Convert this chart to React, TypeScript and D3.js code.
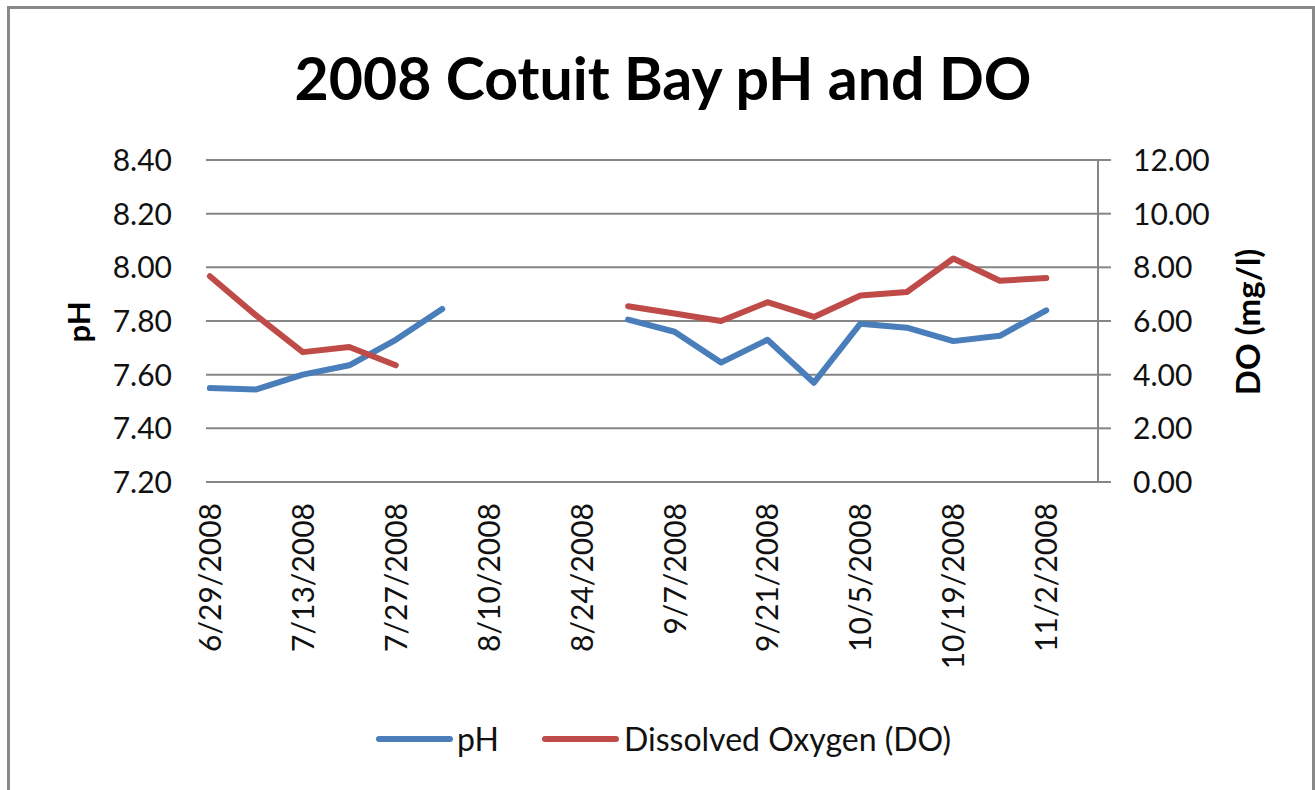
import React from "react";
import * as d3 from "d3";

// ---- data ----
const weekDates: string[] = [
  "2008-06-29", "2008-07-06", "2008-07-13", "2008-07-20", "2008-07-27",
  "2008-08-03", "2008-08-10", "2008-08-17", "2008-08-24", "2008-08-31",
  "2008-09-07", "2008-09-14", "2008-09-21", "2008-09-28", "2008-10-05",
  "2008-10-12", "2008-10-19", "2008-10-26", "2008-11-02",
];
const phValues: (number | null)[] = [
  7.55, 7.545, 7.6, 7.635, 7.73, 7.845, null, null, null, 7.805,
  7.76, 7.645, 7.73, 7.57, 7.79, 7.775, 7.725, 7.745, 7.84,
];
const doValues: (number | null)[] = [
  7.67, 6.2, 4.84, 5.03, 4.35, null, null, null, null, 6.55,
  6.28, 6.0, 6.7, 6.15, 6.95, 7.08, 8.33, 7.5, 7.6,
];
const tickDates: string[] = [
  "2008-06-29", "2008-07-13", "2008-07-27", "2008-08-10", "2008-08-24",
  "2008-09-07", "2008-09-21", "2008-10-05", "2008-10-19", "2008-11-02",
];
const phTicks: number[] = [7.2, 7.4, 7.6, 7.8, 8.0, 8.2, 8.4];
const doTicks: number[] = [0, 2, 4, 6, 8, 10, 12];
const axisStart = "2008-06-29";
const axisEnd = "2008-11-09";

const title = "2008 Cotuit Bay pH and DO";
const seriesNames = ["pH", "Dissolved Oxygen (DO)"];

const BLUE = "#4A7EBB";
const RED = "#BE4B48";
const GRID = "#868686";
const FONT = "Lato, 'Open Sans', sans-serif";

const parse = d3.utcParse("%Y-%m-%d");
const fmt = d3.utcFormat("%-m/%-d/%Y");

export default function App() {
  const left = 206, right = 1098, top = 160, bottom = 482;

  const x = d3
    .scaleUtc()
    .domain([
      d3.utcHour.offset(parse(axisStart)!, -14),
      d3.utcHour.offset(parse(axisEnd)!, 19),
    ])
    .range([left, right]);
  const yPh = d3.scaleLinear().domain([7.2, 8.4]).range([bottom, top]);
  const yDo = d3.scaleLinear().domain([0, 12]).range([bottom, top]);

  const dates = weekDates.map((d) => parse(d)!);

  const phLine = d3
    .line<number>()
    .defined((i) => phValues[i] != null)
    .x((i) => x(dates[i]))
    .y((i) => yPh(phValues[i] as number));
  const doLine = d3
    .line<number>()
    .defined((i) => doValues[i] != null)
    .x((i) => x(dates[i]))
    .y((i) => yDo(doValues[i] as number));
  const idx = d3.range(dates.length);

  return (
    <svg
      width={1315}
      height={790}
      style={{ position: "fixed", left: 0, top: 0, display: "block", background: "#fff" }}
    >
      <rect x={0} y={0} width={1315} height={790} fill="#fff" />
      <rect x={8.5} y={7.5} width={1305} height={800} fill="none" stroke="#898989" strokeWidth={3} />

      <text
        x={663}
        y={100}
        textAnchor="middle"
        fontFamily={FONT}
        fontWeight="bold"
        fontSize={59}
        fill="#000"
      >
        {title}
      </text>

      {/* gridlines */}
      {phTicks.map((t) => (
        <line key={"g" + t} x1={left} x2={right} y1={yPh(t)} y2={yPh(t)} stroke={GRID} strokeWidth={2} />
      ))}

      {/* right axis */}
      <line x1={right} x2={right} y1={top} y2={bottom} stroke={GRID} strokeWidth={2} />
      {doTicks.map((t) => (
        <line key={"rt" + t} x1={right} x2={right + 13} y1={yDo(t)} y2={yDo(t)} stroke={GRID} strokeWidth={2} />
      ))}

      {/* left tick labels */}
      {phTicks.map((t) => (
        <text key={"lt" + t} x={172} y={yPh(t) + 11} textAnchor="end" fontFamily={FONT} fontSize={30} fill="#111">
          {d3.format(".2f")(t)}
        </text>
      ))}
      {/* right tick labels */}
      {doTicks.map((t) => (
        <text key={"rl" + t} x={1133} y={yDo(t) + 11} textAnchor="start" fontFamily={FONT} fontSize={30} fill="#111">
          {d3.format(".2f")(t)}
        </text>
      ))}

      {/* x tick labels */}
      {tickDates.map((d) => {
        const dt = parse(d)!;
        return (
          <text
            key={"x" + d}
            transform={`translate(${x(dt) + 11},503) rotate(-90)`}
            textAnchor="end"
            fontFamily={FONT}
            fontSize={30}
            fill="#111"
          >
            {fmt(dt)}
          </text>
        );
      })}

      {/* axis titles */}
      <text transform="translate(90,322) rotate(-90)" textAnchor="middle" fontFamily={FONT} fontWeight="bold" fontSize={31} fill="#000">
        pH
      </text>
      <text transform="translate(1260,322) rotate(-90)" textAnchor="middle" fontFamily={FONT} fontWeight="bold" fontSize={33} fill="#000">
        DO (mg/l)
      </text>

      {/* series */}
      <path d={phLine(idx) || ""} fill="none" stroke={BLUE} strokeWidth={6} strokeLinejoin="round" strokeLinecap="round" />
      <path d={doLine(idx) || ""} fill="none" stroke={RED} strokeWidth={6} strokeLinejoin="round" strokeLinecap="round" />

      {/* legend */}
      <line x1={379} x2={450} y1={739} y2={739} stroke={BLUE} strokeWidth={6} strokeLinecap="round" />
      <text x={457} y={751} fontFamily={FONT} fontSize={32} fill="#111">
        {seriesNames[0]}
      </text>
      <line x1={545} x2={616} y1={739} y2={739} stroke={RED} strokeWidth={6} strokeLinecap="round" />
      <text x={624} y={751} fontFamily={FONT} fontSize={32} fill="#111">
        {seriesNames[1]}
      </text>
    </svg>
  );
}
